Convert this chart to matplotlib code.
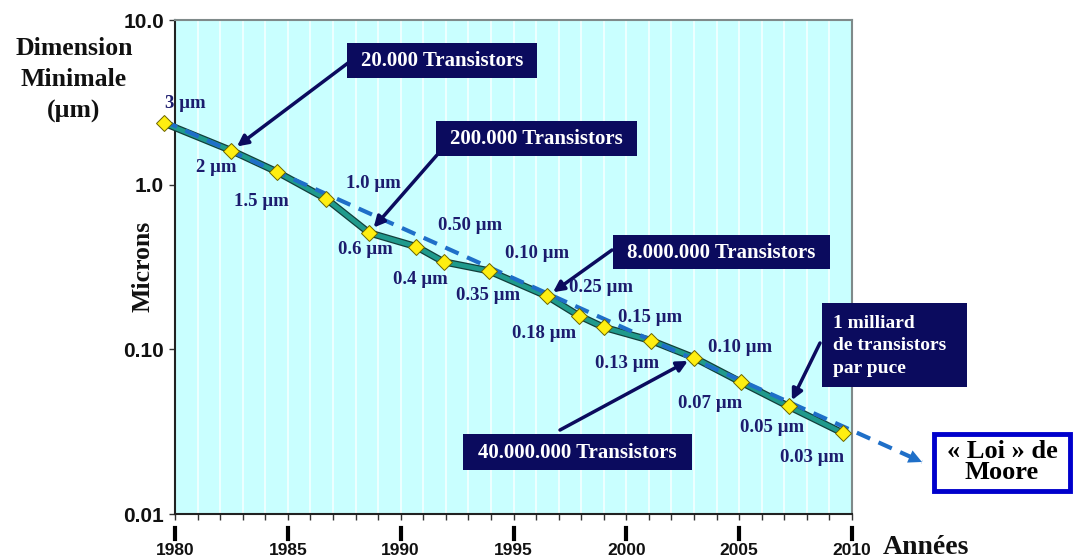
import numpy as np
import matplotlib
matplotlib.use("Agg")
import matplotlib.pyplot as plt
from matplotlib.patches import Rectangle

# minimum feature size (yellow diamonds)
years = [1979.5, 1982.5, 1984.5, 1986.7, 1988.6, 1990.7, 1991.9, 1993.9,
         1996.5, 1997.9, 1999.0, 2001.1, 2003.0, 2005.1, 2007.2, 2009.6]
sizes = [2.37, 1.61, 1.20, 0.82, 0.51, 0.42, 0.34, 0.30,
         0.21, 0.16, 0.136, 0.113, 0.089, 0.063, 0.045, 0.031]

# "Loi de Moore" trend (start / end of dashed line)
trend_years = [1979.5, 2013.1]
trend_vals = [2.44, 0.0207]

# text labels next to the points, placed in figure pixels
point_labels = ["3 µm", "2 µm", "1.5 µm", "1.0 µm", "0.6 µm", "0.50 µm", "0.4 µm",
                "0.35 µm", "0.10 µm", "0.25 µm", "0.18 µm", "0.15 µm", "0.13 µm",
                "0.10 µm", "0.07 µm", "0.05 µm", "0.03 µm"]
label_pos = [(185, 104), (216, 168), (261, 201), (373, 183), (365, 250), (470, 225),
             (420, 280), (488, 295), (537, 254), (601, 288), (544, 333), (650, 318),
             (627, 363), (740, 348), (710, 404), (772, 427), (812, 457)]

# transistor count boxes: text, box (x0, y0, x1, y1 px), target point index, arrow tail (px)
boxes = ["20.000 Transistors", "200.000 Transistors", "8.000.000 Transistors",
         "40.000.000 Transistors", "1 milliard\nde transistors\npar puce"]
box_rect = [(347, 43, 537, 78), (436, 121, 637, 156), (613, 235, 830, 269),
            (463, 434, 692, 470), (822, 303, 967, 387)]
box_target = [1, 4, 8, 12, 14]
box_tail = [(348, 63), (437, 155), (612, 250), (560, 430), (820, 343)]

year_ticks = [1980, 1985, 1990, 1995, 2000, 2005, 2010]
y_ticks = [0.01, 0.1, 1.0, 10.0]
y_tick_labels = ["0.01", "0.10", "1.0", "10.0"]

W, H = 1073, 559
SERIF = ["Liberation Serif", "DejaVu Serif"]
SANS = ["Liberation Sans", "DejaVu Sans"]
NAVY = "#0b0b5e"
LABEL = "#1c1c6e"


def px(x, y):
    return (x / W, 1 - y / H)


def add_box(x0, y0, x1, y1, **kw):
    r = Rectangle(px(x0, y1), (x1 - x0) / W, (y1 - y0) / H,
                  transform=fig.transFigure, **kw)
    fig.add_artist(r)


fig = plt.figure(figsize=(W / 100, H / 100), dpi=100)
ax = fig.add_axes([175 / W, 1 - 514 / H, (852 - 175) / W, (514 - 20) / H])
ax.set_facecolor("#c9ffff")
ax.set_yscale("log")
ax.set_xlim(1980, 2010)
ax.set_ylim(0.01, 10)

# grid: white vertical line each year
ax.set_xticks(year_ticks)
ax.set_xticks(np.arange(1980, 2011), minor=True)
ax.grid(True, which="both", axis="x", color="white", lw=1.2, alpha=0.8)
ax.set_axisbelow(True)
ax.set_xticklabels([str(y) for y in year_ticks], fontfamily=SANS,
                   fontweight="bold", fontsize=12.5, color="#111111")
ax.tick_params(axis="x", which="major", length=4, width=1, pad=17, color="#333333")
ax.tick_params(axis="x", which="minor", length=4, width=1, color="#333333")

ax.set_yticks(y_ticks)
ax.set_yticklabels(y_tick_labels, fontfamily=SANS, fontweight="bold",
                   fontsize=15, color="#111111")
ax.yaxis.set_minor_locator(matplotlib.ticker.NullLocator())
ax.tick_params(axis="y", length=4, width=1, pad=4, color="#333333")

for s in ["left", "bottom"]:
    ax.spines[s].set_color("#222222")
    ax.spines[s].set_linewidth(1.5)
for s in ["top", "right"]:
    ax.spines[s].set_color("#7f8a8a")
    ax.spines[s].set_linewidth(1.5)

# thick bars under each 5-year label
for yr in year_ticks:
    ax.plot([yr, yr], [-0.028, -0.05], color="black", lw=3,
            transform=ax.get_xaxis_transform(), clip_on=False)

# data line: teal with dark outline
ax.plot(years, sizes, color="#123f3b", lw=5.2, clip_on=False, zorder=3,
        solid_joinstyle="round")
ax.plot(years, sizes, color="#1f9a8c", lw=3.4, clip_on=False, zorder=4,
        solid_joinstyle="round")

# trend dashed line + arrow head
ax.plot(trend_years, trend_vals, color="#1f6fc8", lw=3, dashes=(3.5, 2.2),
        clip_on=False, zorder=5)
ly = np.log10(trend_vals)
slope = (ly[1] - ly[0]) / (trend_years[1] - trend_years[0])
ax.annotate("", xy=(trend_years[1], trend_vals[1]),
            xytext=(trend_years[1] - 0.7, 10 ** (ly[1] - slope * 0.7)),
            arrowprops=dict(arrowstyle="-|>", color="#1f6fc8", lw=0,
                            mutation_scale=24, shrinkA=0, shrinkB=0),
            annotation_clip=False, zorder=5)

ax.plot(years, sizes, "D", color="#ffee11", ms=8.5, mec="#6b6400", mew=0.7,
        clip_on=False, zorder=6)

for txt, (x, y) in zip(point_labels, label_pos):
    fig.text(*px(x, y), txt, ha="center", va="center", fontfamily=SERIF,
             fontweight="bold", fontsize=13.5, color=LABEL, zorder=7)

for txt, (x0, y0, x1, y1), ti, (tx, ty) in zip(boxes, box_rect, box_target, box_tail):
    add_box(x0, y0, x1, y1, fc=NAVY, ec="none", zorder=8)
    if "\n" in txt:
        fig.text(*px(x0 + 11, (y0 + y1) / 2 + 1), txt, ha="left", va="center",
                 fontfamily=SERIF, fontweight="bold", fontsize=14, color="white",
                 linespacing=1.4, zorder=9)
    else:
        fig.text(*px((x0 + x1) / 2, (y0 + y1) / 2 + 1), txt, ha="center", va="center",
                 fontfamily=SERIF, fontweight="bold", fontsize=15, color="white",
                 zorder=9)
    ax.annotate("", xy=(years[ti], sizes[ti]), xycoords="data",
                xytext=px(tx, ty), textcoords="figure fraction",
                arrowprops=dict(arrowstyle="-|>", color=NAVY, lw=2.5,
                                mutation_scale=16, shrinkA=0, shrinkB=5),
                annotation_clip=False, zorder=8)

# "Loi de Moore" box
add_box(934, 434, 1070, 491, fc="white", ec="#0000cc", lw=3.5, zorder=8)
fig.text(*px(1002, 462), "« Loi » de\nMoore", ha="center", va="center",
         fontfamily=SERIF, fontweight="bold", fontsize=19, color="black",
         linespacing=0.85, zorder=9)

fig.text(*px(74, 80), "Dimension\nMinimale\n(µm)", ha="center", va="center",
         fontfamily=SERIF, fontweight="bold", fontsize=18.5, color="#111111",
         linespacing=1.45)
fig.text(*px(143, 266), "Microns", ha="center", va="center", rotation=90,
         fontfamily=SERIF, fontweight="bold", fontsize=18.5, color="#111111")
fig.text(*px(926, 548), "Années", ha="center", va="center",
         fontfamily=SERIF, fontweight="bold", fontsize=20, color="#111111")

fig.savefig("out.png", dpi=100)
